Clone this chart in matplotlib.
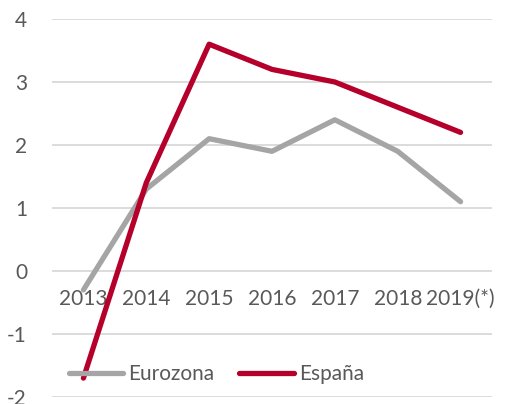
import matplotlib
matplotlib.use("Agg")
import matplotlib.pyplot as plt

# Datos
anios = ["2013", "2014", "2015", "2016", "2017", "2018", "2019(*)"]
eurozona = [-0.3, 1.3, 2.1, 1.9, 2.4, 1.9, 1.1]
espana = [-1.7, 1.4, 3.6, 3.2, 3.0, 2.6, 2.2]

plt.rcParams['font.family'] = ['Lato', 'DejaVu Sans']
plt.rcParams['axes.unicode_minus'] = False

fig = plt.figure(figsize=(5.08, 4.04), dpi=100)
ax = fig.add_axes([52 / 508, 7 / 404, 440 / 508, 378 / 404])

x = range(len(anios))
ax.plot(x, eurozona, color='#A5A5A5', linewidth=3.8, label='Eurozona', solid_capstyle='round')
ax.plot(x, espana, color='#B5002B', linewidth=3.8, label='España', solid_capstyle='round')

ax.set_xlim(-0.5, len(anios) - 0.5)
ax.set_ylim(-2, 4)
ax.set_yticks(range(-2, 5))
ax.yaxis.grid(True, color='#D9D9D9', linewidth=1.3)
ax.set_axisbelow(True)

for s in ['top', 'right', 'left']:
    ax.spines[s].set_visible(False)
ax.spines['bottom'].set_position(('data', 0))
ax.spines['bottom'].set_visible(False)

ax.set_xticks(list(x))
ax.set_xticklabels(anios)
ax.tick_params(axis='x', length=0, pad=13, labelsize=15, labelcolor='#595959')
ax.tick_params(axis='y', length=0, pad=18, labelsize=15, labelcolor='#595959')

leg = ax.legend(loc='lower left', bbox_to_anchor=(0.01, 0.0), ncol=2, frameon=False,
                fontsize=15, handlelength=2.6, handletextpad=0.25, columnspacing=1.2,
                borderaxespad=0.2)
for t in leg.get_texts():
    t.set_color('#595959')

plt.savefig('out.png', dpi=100)
